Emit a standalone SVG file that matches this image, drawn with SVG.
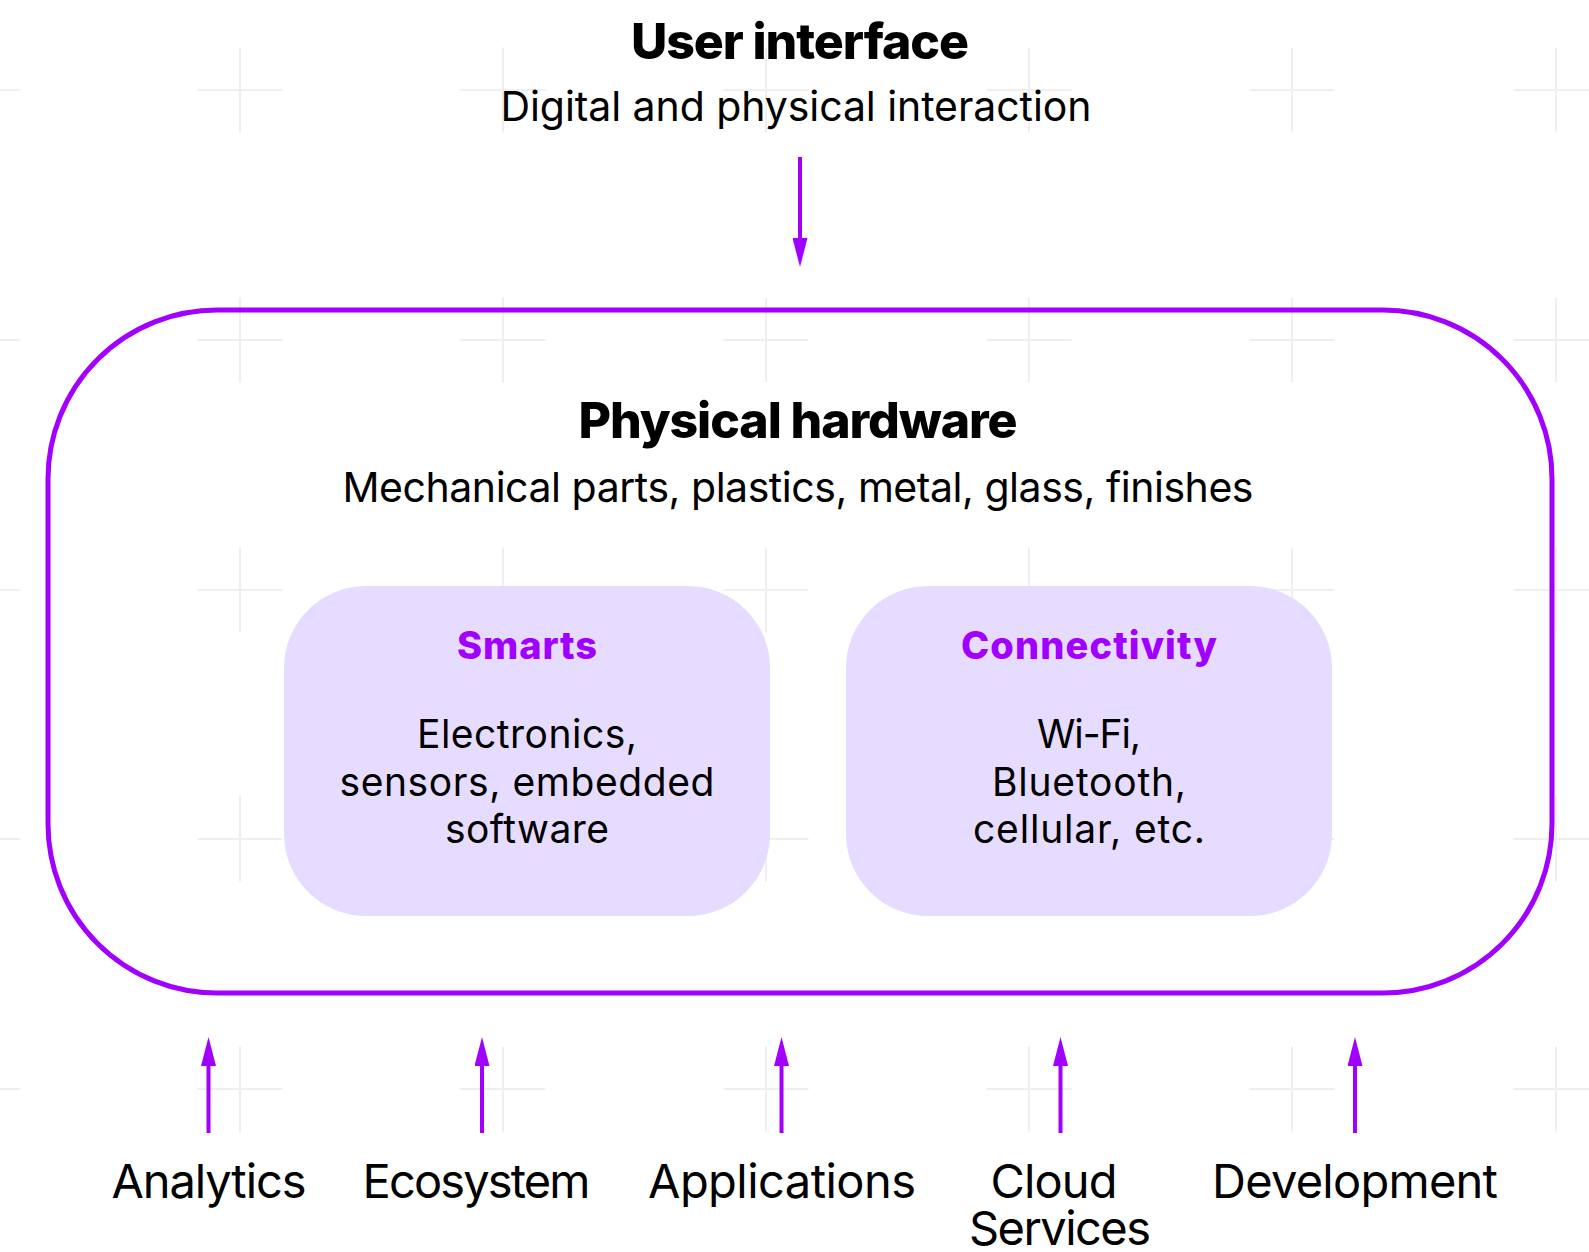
<svg xmlns="http://www.w3.org/2000/svg" width="1589" height="1252" viewBox="0 0 1589 1252">
  <style>
    .grid { stroke: #EFEFEF; stroke-width: 2; fill: none; }
    .t { font-family: "Inter", "Liberation Sans", sans-serif; fill: #000; text-anchor: middle; }
    .title { font-size: 50px; font-weight: 800; }
    .sub { font-size: 41px; font-weight: 400; }
    .boxtitle { font-size: 38px; font-weight: 800; fill: #A100FF; }
    .body { font-size: 39px; font-weight: 400; }
    .label { font-size: 47px; font-weight: 400; }
    .outer { fill: none; stroke: #A100FF; stroke-width: 5; }
    .inner { fill: #E6DCFF; stroke: none; }
    .conn { stroke: #A100FF; stroke-width: 4; fill: none; }
  </style>
  <defs>
    <marker id="ah" markerUnits="userSpaceOnUse" markerWidth="29" markerHeight="15" refX="0" refY="7.5" orient="auto" viewBox="0 0 29 15">
      <path d="M0,0 L29,7.5 L0,15 Z" fill="#A100FF"/>
    </marker>
  </defs>
  <rect x="0" y="0" width="1589" height="1252" fill="#FFFFFF"/>
  <g id="grid" class="grid">
    <path d="M-65.5,90 h85 M-23,47.5 v85 M197.5,90 h85 M240,47.5 v85 M460.5,90 h85 M503,47.5 v85 M723.5,90 h85 M766,47.5 v85 M986.5,90 h85 M1029,47.5 v85 M1249.5,90 h85 M1292,47.5 v85 M1513.5,90 h85 M1556,47.5 v85"/>
    <path d="M-65.5,340 h85 M-23,297.5 v85 M197.5,340 h85 M240,297.5 v85 M460.5,340 h85 M503,297.5 v85 M723.5,340 h85 M766,297.5 v85 M986.5,340 h85 M1029,297.5 v85 M1249.5,340 h85 M1292,297.5 v85 M1513.5,340 h85 M1556,297.5 v85"/>
    <path d="M-65.5,590 h85 M-23,547.5 v85 M197.5,590 h85 M240,547.5 v85 M460.5,590 h85 M503,547.5 v85 M723.5,590 h85 M766,547.5 v85 M986.5,590 h85 M1029,547.5 v85 M1249.5,590 h85 M1292,547.5 v85 M1513.5,590 h85 M1556,547.5 v85"/>
    <path d="M-65.5,839 h85 M-23,796.5 v85 M197.5,839 h85 M240,796.5 v85 M460.5,839 h85 M503,796.5 v85 M723.5,839 h85 M766,796.5 v85 M986.5,839 h85 M1029,796.5 v85 M1249.5,839 h85 M1292,796.5 v85 M1513.5,839 h85 M1556,796.5 v85"/>
    <path d="M-65.5,1089 h85 M-23,1046.5 v85 M197.5,1089 h85 M240,1046.5 v85 M460.5,1089 h85 M503,1046.5 v85 M723.5,1089 h85 M766,1046.5 v85 M986.5,1089 h85 M1029,1046.5 v85 M1249.5,1089 h85 M1292,1046.5 v85 M1513.5,1089 h85 M1556,1046.5 v85"/>
  </g>
  <g id="user-interface">
    <text class="t title" x="800" y="59" textLength="338">User interface</text>
    <text class="t sub" x="796" y="121" textLength="591">Digital and physical interaction</text>
  </g>
  <g id="physical-hardware">
    <rect class="outer" x="48" y="310" width="1504" height="683" rx="169" ry="169"/>
    <text class="t title" x="798" y="438" textLength="439">Physical hardware</text>
    <text class="t sub" x="798" y="502" textLength="911">Mechanical parts, plastics, metal, glass, finishes</text>
  </g>
  <g id="smarts">
    <rect class="inner" x="284" y="586" width="486" height="330" rx="82" ry="82"/>
    <text class="t boxtitle" x="527" y="659" textLength="140">Smarts</text>
    <text class="t body" x="527" y="748" textLength="220">Electronics,</text>
    <text class="t body" x="527" y="796" textLength="375">sensors, embedded</text>
    <text class="t body" x="527" y="843" textLength="164">software</text>
  </g>
  <g id="connectivity">
    <rect class="inner" x="846" y="586" width="486" height="330" rx="82" ry="82"/>
    <text class="t boxtitle" x="1089" y="659" textLength="256">Connectivity</text>
    <text class="t body" x="1089" y="748" textLength="104">Wi-Fi,</text>
    <text class="t body" x="1089" y="796" textLength="194">Bluetooth,</text>
    <text class="t body" x="1089" y="843" textLength="232">cellular, etc.</text>
  </g>
  <g id="analytics"><text class="t label" x="209" y="1198" textLength="195">Analytics</text></g>
  <g id="ecosystem"><text class="t label" x="476.5" y="1198" textLength="228">Ecosystem</text></g>
  <g id="applications"><text class="t label" x="782" y="1198" textLength="268">Applications</text></g>
  <g id="cloud-services">
    <text class="t label" x="1054" y="1198" textLength="127">Cloud</text>
    <text class="t label" x="1060" y="1245" textLength="182">Services</text>
  </g>
  <g id="development"><text class="t label" x="1355" y="1198" textLength="286">Development</text></g>
  <g id="connectors" class="conn">
    <line x1="800" y1="157" x2="800" y2="238" marker-end="url(#ah)"/>
    <line x1="208.5" y1="1133" x2="208.5" y2="1066" marker-end="url(#ah)"/>
    <line x1="482" y1="1133" x2="482" y2="1066" marker-end="url(#ah)"/>
    <line x1="781.5" y1="1133" x2="781.5" y2="1066" marker-end="url(#ah)"/>
    <line x1="1060.5" y1="1133" x2="1060.5" y2="1066" marker-end="url(#ah)"/>
    <line x1="1355" y1="1133" x2="1355" y2="1066" marker-end="url(#ah)"/>
  </g>
</svg>
